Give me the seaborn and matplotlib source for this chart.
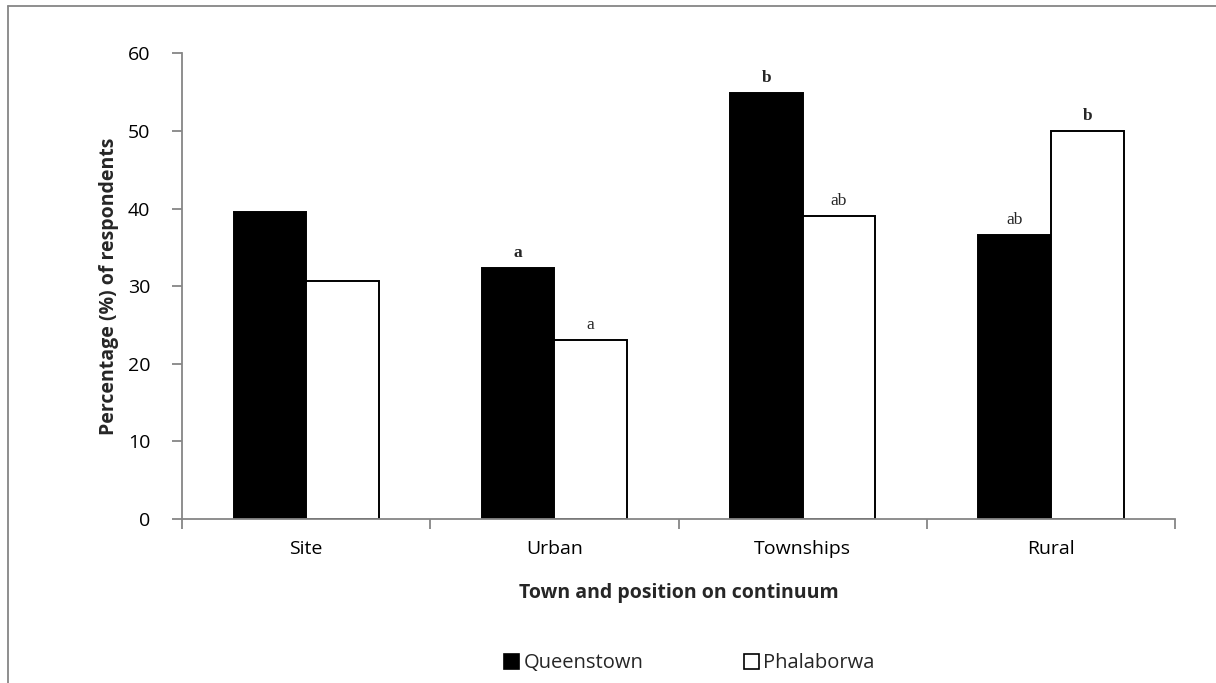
import matplotlib
matplotlib.use("Agg")
import matplotlib.pyplot as plt
from matplotlib.patches import Patch
from matplotlib.lines import Line2D
import pandas as pd
import seaborn as sns

# Survey results: share of respondents per position on the continuum
categories = ["Site", "Urban", "Townships", "Rural"]
towns = ["Queenstown", "Phalaborwa"]
queenstown = [39.6, 32.3, 54.9, 36.6]
phalaborwa = [30.7, 23.1, 39.0, 50.0]

# Significance letters written above the bars ("" = none)
letters_queenstown = ["", "a", "b", "ab"]
letters_phalaborwa = ["", "a", "ab", "b"]
bold_queenstown = [False, True, True, False]
bold_phalaborwa = [False, False, False, True]

yticks = [0, 10, 20, 30, 40, 50, 60]

df = pd.DataFrame({
    "category": categories * 2,
    "town": [towns[0]] * 4 + [towns[1]] * 4,
    "value": queenstown + phalaborwa,
})

sns.set_theme(style="white")
plt.rcParams["font.family"] = ["Open Sans", "DejaVu Sans"]

fig = plt.figure(figsize=(12.16, 6.83), dpi=100)
ax = fig.add_axes([0.1497, 0.2401, 0.8166, 0.6819])

grey = "#868686"
sns.barplot(data=df, x="category", y="value", hue="town", order=categories,
            hue_order=towns, palette={"Queenstown": "black", "Phalaborwa": "white"},
            edgecolor="black", linewidth=1.4, width=0.585, gap=0,
            errorbar=None, ax=ax, legend=False)

ax.set_xlim(-0.5, 3.5)
ax.set_ylim(0, 60)
ax.set_yticks(yticks)

for side in ["top", "right"]:
    ax.spines[side].set_visible(False)
for side in ["left", "bottom"]:
    ax.spines[side].set_color(grey)
    ax.spines[side].set_linewidth(1.3)

ax.tick_params(axis="y", which="major", direction="out", length=7, width=1.3,
               color=grey, left=True, pad=16, labelsize=14, labelcolor="black")
ax.set_xticks([-0.5, 0.5, 1.5, 2.5, 3.5], minor=True)
ax.tick_params(axis="x", which="minor", direction="out", length=7, width=1.3,
               color=grey, bottom=True)
ax.tick_params(axis="x", which="major", length=0, pad=15, labelsize=14,
               labelcolor="black")

ax.set_ylabel("Percentage (%) of respondents", fontsize=14, fontweight="bold",
              labelpad=6)
ax.set_xlabel("Town and position on continuum", fontsize=14, fontweight="bold",
              labelpad=18)

# Letters above bars
for container, labels, bolds in zip(ax.containers,
                                    [letters_queenstown, letters_phalaborwa],
                                    [bold_queenstown, bold_phalaborwa]):
    texts = ax.bar_label(container, labels=labels, padding=5, fontsize=12.5,
                         family="Liberation Serif")
    for t, b in zip(texts, bolds):
        if b:
            t.set_fontweight("bold")

handles = [Patch(facecolor="black", edgecolor="black", linewidth=1.2),
           Patch(facecolor="white", edgecolor="black", linewidth=1.2)]
fig.legend(handles, towns, loc="center", bbox_to_anchor=(0.567, 0.029), ncol=2,
           frameon=False, fontsize=14.5, handlelength=0.75, handleheight=0.75,
           handletextpad=0.2, columnspacing=5.0)

# Outer chart frame (top and left edges)
fig.add_artist(Line2D([8 / 1216, 1.0], [1 - 6 / 683, 1 - 6 / 683],
                      transform=fig.transFigure, color=grey, linewidth=1.3))
fig.add_artist(Line2D([8 / 1216, 8 / 1216], [0.0, 1 - 6 / 683],
                      transform=fig.transFigure, color=grey, linewidth=1.3))

fig.savefig("out.png", dpi=100, facecolor="white")
